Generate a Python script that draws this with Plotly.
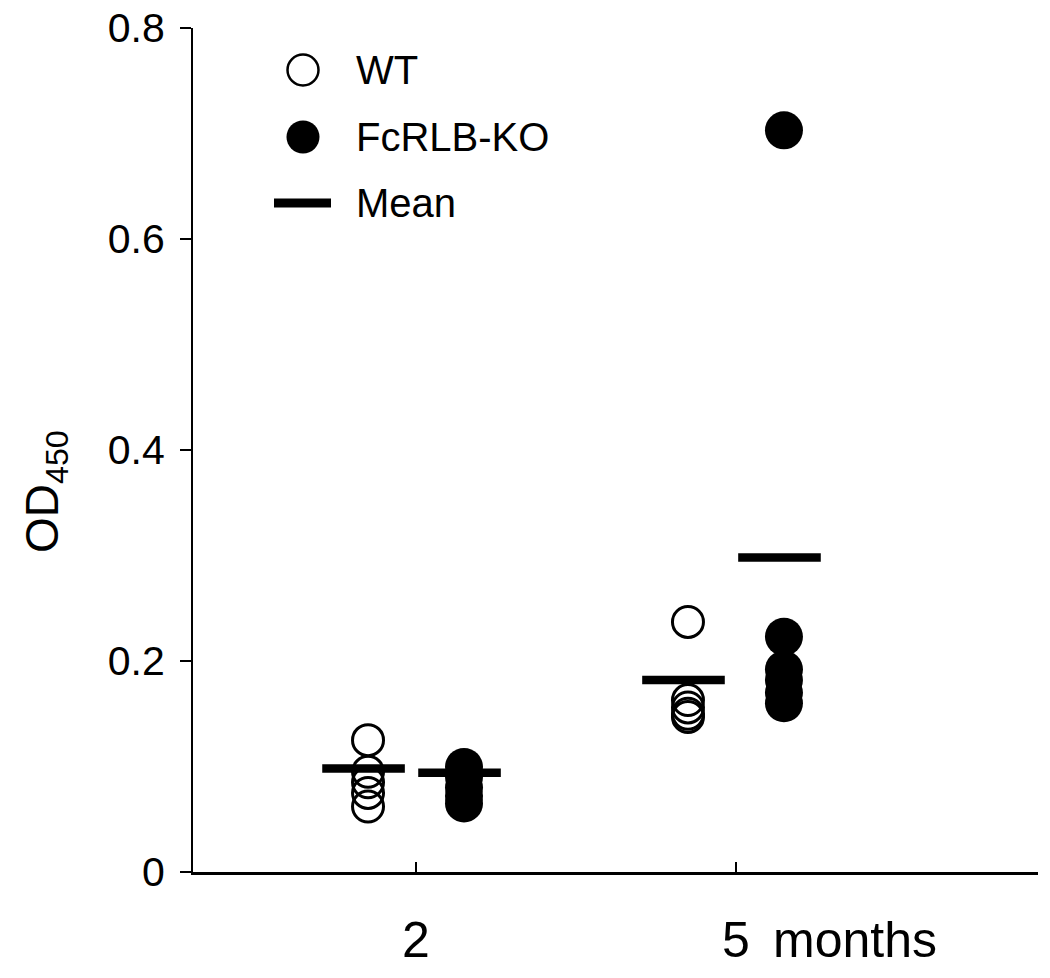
import plotly.graph_objects as go

# ---- data ----
groups = ["2", "5"]               # months
group_pos = [1, 2]
wt_2 = [0.125, 0.095, 0.085, 0.075, 0.062]
ko_2 = [0.0995, 0.09, 0.08, 0.072, 0.065]
wt_5 = [0.237, 0.163, 0.156, 0.150, 0.147]
ko_5 = [0.703, 0.223, 0.192, 0.182, 0.170, 0.160]
mean_wt = [0.098, 0.182]
mean_ko = [0.094, 0.298]
y_ticks = [0, 0.2, 0.4, 0.6, 0.8]
y_ticktext = ["0", "0.2", "0.4", "0.6", "0.8"]

# ---- layout constants ----
PAGE_OFF = 8                      # default body margin of the html page
W, H = 1050 - PAGE_OFF, 978 - PAGE_OFF
# plot area in page pixels: x 193..1038, y 28..872
PL, PR, PT, PB = 193, 1038, 28, 872
L, T = PL - PAGE_OFF, PT - PAGE_OFF
R, B = W - (PR - PAGE_OFF), H - (PB - PAGE_OFF)
off_wt, off_ko = -0.15, 0.15
off_mean_wt, off_mean_ko = -0.164, 0.136
FONT = "Arial, Liberation Sans, sans-serif"

fig = go.Figure()

def xs(pos, off, n):
    return [pos + off] * n

wt_x = xs(group_pos[0], off_wt, len(wt_2)) + xs(group_pos[1], off_wt, len(wt_5))
ko_x = xs(group_pos[0], off_ko, len(ko_2)) + xs(group_pos[1], off_ko, len(ko_5))

fig.add_trace(go.Scatter(
    x=wt_x, y=wt_2 + wt_5, mode="markers", name="WT",
    marker=dict(symbol="circle-open", size=31, color="black",
                line=dict(width=3, color="black")),
    showlegend=False))
fig.add_trace(go.Scatter(
    x=ko_x, y=ko_2 + ko_5, mode="markers", name="FcRLB-KO",
    marker=dict(symbol="circle", size=38, color="black", line=dict(width=0)),
    showlegend=False))
fig.add_trace(go.Scatter(
    x=[p + off_mean_wt for p in group_pos] + [p + off_mean_ko for p in group_pos],
    y=mean_wt + mean_ko, mode="markers", name="Mean",
    marker=dict(symbol="line-ew", size=59, color="black",
                line=dict(width=8.5, color="black")),
    showlegend=False))

# ---- manual legend (paper coordinates from page pixel positions) ----
def px(xp):
    return (xp - PL) / (PR - PL)

def py(yp):
    return (PB - yp) / (PB - PT)

leg_items = [("WT", 70), ("FcRLB-KO", 137), ("Mean", 203)]
sym_x = 303
fig.add_shape(type="circle", xref="paper", yref="paper",
              xsizemode="pixel", ysizemode="pixel",
              xanchor=px(sym_x), yanchor=py(70),
              x0=-15.5, x1=15.5, y0=-15.5, y1=15.5,
              line=dict(color="black", width=2.5), fillcolor="rgba(0,0,0,0)")
fig.add_shape(type="circle", xref="paper", yref="paper",
              xsizemode="pixel", ysizemode="pixel",
              xanchor=px(sym_x), yanchor=py(137),
              x0=-16.5, x1=16.5, y0=-16.5, y1=16.5,
              line=dict(color="black", width=0), fillcolor="black")
fig.add_shape(type="rect", xref="paper", yref="paper",
              xsizemode="pixel", ysizemode="pixel",
              xanchor=px(sym_x), yanchor=py(203),
              x0=-29, x1=28, y0=-4.5, y1=4.5,
              line=dict(width=0), fillcolor="black")
for label, yp in leg_items:
    fig.add_annotation(text=label, xref="paper", yref="paper",
                       x=px(354), y=py(yp), xanchor="left", yanchor="middle",
                       showarrow=False, font=dict(family=FONT, size=40, color="black"))

# months label (same line as the "5" tick label)
fig.add_annotation(text="months", xref="paper", yref="paper",
                   x=px(771), y=py(940), xanchor="left", yanchor="middle",
                   showarrow=False, font=dict(family=FONT, size=50, color="black"))

# y title
fig.add_annotation(text="OD<sub>450</sub>", xref="paper", yref="paper",
                   x=px(45), y=py(492), xanchor="center", yanchor="middle",
                   textangle=-90, showarrow=False,
                   font=dict(family=FONT, size=46, color="black"))

fig.update_layout(
    width=W, height=H,
    margin=dict(l=L, r=R, t=T, b=B, pad=0, autoexpand=False),
    paper_bgcolor="white", plot_bgcolor="white",
    font=dict(family=FONT, color="black"),
    xaxis=dict(range=[0.303, 2.944], tickvals=group_pos, ticktext=groups,
               ticks="inside", ticklen=10, tickwidth=2, tickcolor="black",
               showline=True, linewidth=2.5, linecolor="black",
               showgrid=False, zeroline=False, ticklabelstandoff=22,
               automargin=False, ticklabeloverflow="allow",
               tickfont=dict(family=FONT, size=50, color="black")),
    yaxis=dict(range=[0, 0.8], tickvals=y_ticks, ticktext=y_ticktext,
               ticks="outside", ticklen=11, tickwidth=2, tickcolor="black",
               showline=True, linewidth=2, linecolor="black",
               showgrid=False, zeroline=False, ticklabelstandoff=7,
               automargin=False, ticklabeloverflow="allow",
               tickfont=dict(family=FONT, size=41, color="black")),
)

fig.write_html("out.html")
